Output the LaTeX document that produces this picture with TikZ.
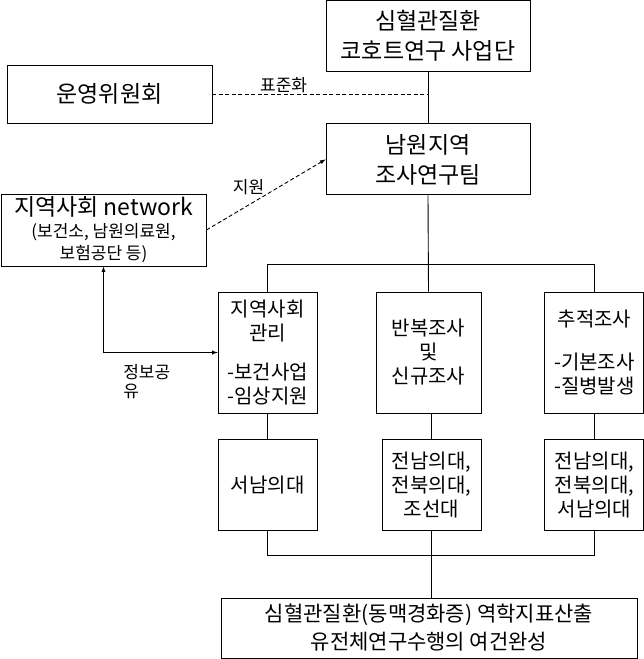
\documentclass[tikz,border=0pt]{standalone}
\usepackage{fontspec}
\setmainfont{Noto Sans CJK KR}
\usepackage{tikz}
\usetikzlibrary{arrows, positioning, calc}

\begin{document}
\begin{tikzpicture}[x=1pt, y=-1pt, line width=0.9pt,
        box/.style={draw, line width=0.9pt, inner sep=0pt, align=center},
        bigtext/.style={font=\fontsize{23}{30}\selectfont},
        midtext/.style={font=\fontsize{20}{24}\selectfont},
        smalltext/.style={font=\fontsize{17}{19}\selectfont},
        dashline/.style={dash pattern=on 4pt off 2.5pt}]
        \useasboundingbox (0,0) rectangle (644,659);

        \node[box, bigtext, minimum width=204pt, minimum height=71pt] (cohort) at (428,35.5) {심혈관질환\\코호트연구 사업단};
        \node[box, bigtext, minimum width=204pt, minimum height=71pt, below=52pt of cohort] (namwon) {남원지역\\조사연구팀};
        \node[box, bigtext, minimum width=205pt, minimum height=58pt] (board) at (109.5,94) {운영위원회};
        \node[box, minimum width=205pt, minimum height=72pt, font=\fontsize{17}{22}\selectfont] (community) at (103.5,230)
            {{\fontsize{23}{27}\selectfont 지역사회 network}\\(보건소, 남원의료원,\\보험공단 등)};

        % survey teams
        \node[box, midtext, minimum width=105pt, minimum height=121pt] (survey) at (428.5,352.5) {반복조사\\및\\신규조사};
        \node[box, midtext, minimum width=99pt, minimum height=121pt, left=58pt of survey] (manage)
            {지역사회\\관리\\[15pt]-보건사업\\-임상지원};
        \node[box, midtext, minimum width=99pt, minimum height=121pt, right=63pt of survey] (follow)
            {추적조사\\[19pt]-기본조사\\-질병발생};

        % universities
        \node[box, midtext, minimum width=99pt, minimum height=91pt, below=26pt of manage] (univA) {서남의대};
        \node[box, midtext, minimum width=99pt, minimum height=91pt, below=26pt of survey, xshift=3pt] (univB) {전남의대,\\전북의대,\\조선대};
        \node[box, midtext, minimum width=99pt, minimum height=91pt, below=26pt of follow] (univC) {전남의대,\\전북의대,\\서남의대};

        \node[box, font=\fontsize{21}{28}\selectfont, minimum width=416pt, minimum height=60pt] (goal) at (429,628)
            {심혈관질환(동맥경화증) 역학지표산출\\유전체연구수행의 여건완성};

        \draw (cohort) -- (namwon);
        \draw[dashline] (board.east) -- (board.east -| cohort.south) node[pos=0.33, above, smalltext, inner sep=1pt] {표준화};
        \draw[dashline, -latex] (community.east) -- (namwon.west) node[midway, above left, smalltext, xshift=2pt, yshift=-4pt] {지원};
        \draw[latex-latex] (community.south) |- (manage.west)
            node[pos=0.5, anchor=north west, smalltext, align=left, xshift=16pt, yshift=-8pt] {정보공\\유};

        \draw (namwon.south) -- (survey.north);
        \draw (manage.north) -- ++(0,-27) -| (follow.north);
        \draw (manage) -- (univA);
        \draw (univB.north) -- (univB.north |- survey.south);
        \draw (follow) -- (univC);
        \draw (univA.south) -- ++(0,24) -| (univC.south);
        \draw (univB.south) -- (univB.south |- goal.north);
    \end{tikzpicture}
\end{document}
